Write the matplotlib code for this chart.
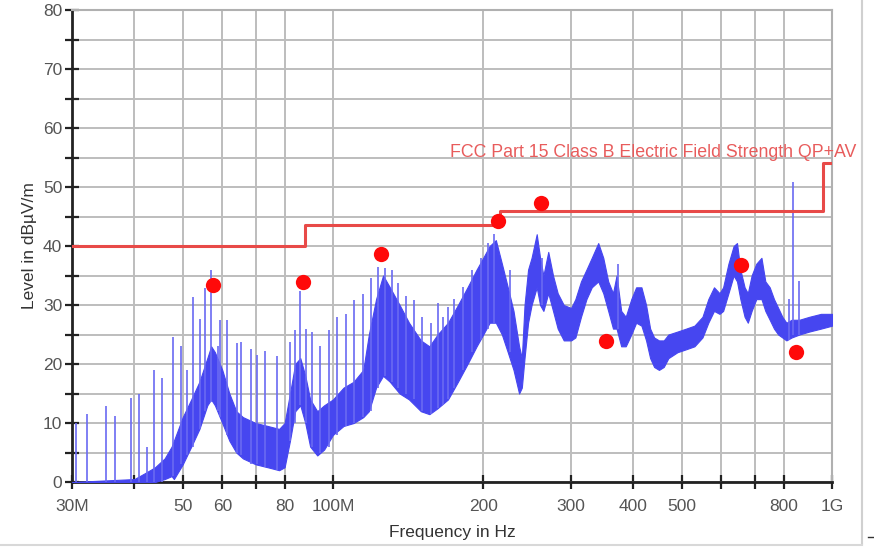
import matplotlib
matplotlib.use('Agg')
import matplotlib.pyplot as plt
from matplotlib.ticker import FixedLocator, NullLocator
from matplotlib.lines import Line2D

plt.rcParams['font.family'] = ['Liberation Sans', 'DejaVu Sans']

# noise floor band of the measured trace (MHz, low edge, high edge in dBuV/m)
spec_mhz = [30, 40, 42, 44, 46, 47.5, 48, 50, 52, 54, 56, 57, 58, 60, 62, 64, 66, 70, 74, 78,
            80, 82, 84, 86, 88, 90, 93, 96, 100, 105, 110, 115, 118, 122, 126, 130, 136, 142,
            150, 156, 162, 170, 178, 186, 194, 200, 206, 212, 218, 224, 230, 236, 239, 242,
            246, 250, 256, 260, 264, 270, 276, 282, 290, 300, 306, 314, 322, 330, 340, 348,
            356, 364, 370, 378, 386, 396, 405, 415, 424, 432, 440, 450, 460, 470, 490, 510,
            530, 550, 565, 580, 595, 605, 620, 635, 645, 655, 668, 678, 690, 705, 722, 735,
            750, 765, 780, 795, 810, 830, 860, 900, 950, 1000]
spec_lo = [0, 0, 0, 0, 0.5, 1, 0.5, 3, 6, 9, 13, 14, 13, 10, 7, 5, 4, 3, 2.5, 2,
           2.5, 7, 12, 13, 10, 6, 4.5, 5.5, 8, 9.5, 10, 11, 12, 16, 18, 17, 15, 14,
           12, 11.5, 12.5, 14, 17, 20, 23, 25, 27, 27, 25, 22, 19, 15, 16, 21,
           27, 30, 33, 30, 29, 32, 29, 26, 24, 24, 24.5, 28, 31, 33, 34, 32,
           29, 26, 26, 23, 23, 25, 27, 26.5, 24, 21, 19.5, 19, 19.5, 21, 22, 22.5,
           23, 24.5, 27, 29, 28.5, 29, 32, 35, 34, 31, 28, 27, 29, 31, 31, 29,
           27.5, 26, 25, 24.5, 24, 24.5, 25, 25.5, 26, 26.5]
spec_hi = [0, 0.5, 1.5, 2.5, 4, 6, 7, 11, 14, 17, 21, 23, 22, 19, 15, 12, 11, 10, 9.5, 9,
           10, 15, 20, 21, 18, 14, 12, 13, 14, 16, 17, 19, 25, 31, 35, 33, 30, 27,
           24, 23, 25, 27, 30, 33, 36, 38, 40, 41, 37, 33, 29, 23, 21, 30,
           36, 38, 42, 38, 35, 39, 35, 32, 30, 29.5, 31, 34, 36, 38, 40.5, 38,
           34, 32, 35, 29, 28, 31, 33, 33, 30, 26, 24.5, 24, 24, 25, 25.5, 26,
           26.5, 28, 31, 33, 32, 33, 37, 40, 40.5, 36, 33, 32, 35, 37, 38, 34,
           33, 31, 29.5, 28, 27, 27.5, 27.5, 28, 28.5, 28.5]

# narrow harmonic spikes (MHz, foot, top)
spike_mhz = [30.6, 32.2, 35.1, 36.6, 39.4, 40.9, 42.4, 43.8, 45.4, 47.9, 49.6, 51.0, 52.5,
             54.1, 55.4, 56.9, 58.8, 59.4, 61.3, 64.1, 65.5, 68.4, 70.4, 73.2, 77.1, 82.0,
             83.9, 85.9, 88.5, 90.7, 94.0, 98.0, 102, 106, 110, 115, 119, 123, 127, 131,
             135, 140, 145, 151, 157, 162, 166, 170, 175, 182, 190, 198, 204, 210, 226,
             262, 372, 820, 835, 860]
spike_foot = [0, 0, 0, 0, 0, 0, 0, 0, 0, 1, 3, 4.5, 6, 9, 12, 13.5, 12, 11, 8, 5, 4.5,
              3, 3, 2.5, 2, 7, 10, 13, 10, 6, 5, 6, 8, 9.5, 10, 11, 12, 16, 18, 17,
              16, 15, 14, 12, 11.5, 12.5, 13, 14, 16, 19, 22, 24, 26, 27, 22,
              30, 26, 24, 25, 25]
spike_top = [10, 11.5, 12.8, 11.2, 14.3, 14.9, 6, 19, 17.7, 24.6, 23, 19, 31.3, 27.7,
             32.9, 36, 23, 27.5, 27.5, 23.6, 23.8, 22.6, 21.5, 22.2, 21.4, 23.8, 25.8,
             32.3, 26, 25.5, 23, 25.7, 27.9, 28.5, 30.8, 31.9, 34.5, 36.5, 36.2, 36,
             33.8, 31.5, 30.9, 28, 27, 30.3, 28, 29.7, 31, 33, 36, 38, 40.5, 42, 36,
             38, 37, 31, 50.9, 34.1]

# FCC Part 15 class B limit (steps)
limit_mhz = [30, 88, 88, 216, 216, 960, 960, 1000]
limit_db = [40, 40, 43.5, 43.5, 46, 46, 54, 54]

# final measurement points
final_mhz = [57.5, 87.1, 124.8, 214, 261, 352, 657, 847]
final_db = [33.4, 33.9, 38.6, 44.2, 47.3, 23.9, 36.8, 22.0]

tick_mhz = [30, 40, 50, 60, 70, 80, 100, 200, 300, 400, 500, 600, 700, 800, 1000]
tick_lbl = ['30M', '', '50', '60', '', '80', '100M', '200', '300', '400', '500', '', '', '800', '1G']

blue = '#4646f0'
fig = plt.figure(figsize=(8.74, 5.47), dpi=100)
ax = fig.add_axes([0.0824, 0.1188, 0.8696, 0.8629])

hz = lambda v: [f * 1e6 for f in v]
ax.fill_between(hz(spec_mhz), spec_lo, spec_hi, color=blue, lw=0.8, edgecolor=blue, zorder=3)
ax.vlines(hz(spike_mhz), spike_foot, spike_top, color='#6a6af2', lw=1.2, zorder=3)
ax.plot(hz(limit_mhz), limit_db, color='#e84a48', lw=2.2, zorder=4)
ax.plot(hz(final_mhz), final_db, 'o', color='#ff0a0a', ms=11, mec='none', zorder=5)
ax.text(171.7e6, 55.9, 'FCC Part 15 Class B Electric Field Strength QP+AV', color='#e85c5c',
        fontsize=12.8, va='center', ha='left', clip_on=False, zorder=6)

ax.set_xscale('log')
ax.set_xlim(30e6, 1000e6)
ax.set_ylim(0, 80)
ax.xaxis.set_major_locator(FixedLocator(hz(tick_mhz)))
ax.xaxis.set_minor_locator(NullLocator())
ax.set_xticklabels(tick_lbl)
ax.set_yticks(range(0, 81, 10))
ax.set_yticks(range(5, 80, 10), minor=True)

ax.grid(True, which='both', color='#bdbdbd', lw=1.4, zorder=0)
ax.set_axisbelow(True)
ax.tick_params(axis='both', which='both', direction='inout', length=10, width=1.6,
               color='#222222', labelcolor='#555555', labelsize=12.5)
ax.tick_params(axis='x', pad=7)
ax.tick_params(axis='y', pad=2)

for s in ['left', 'bottom']:
    ax.spines[s].set_linewidth(2)
    ax.spines[s].set_color('#222222')
for s in ['top', 'right']:
    ax.spines[s].set_linewidth(1.5)
    ax.spines[s].set_color('#b0b0b0')

ax.set_xlabel('Frequency in Hz', fontsize=12.5, color='#333333', labelpad=8)
ax.set_ylabel('Level in dBµV/m', fontsize=12.5, color='#333333', labelpad=4)

# page border bits seen in the screenshot
fig.add_artist(Line2D([862 / 874, 862 / 874], [0.005, 1], color='#d0d0d0', lw=1.5))
fig.add_artist(Line2D([0, 862 / 874], [0.004, 0.004], color='#d8d8d8', lw=1.5))
fig.add_artist(Line2D([868 / 874, 874 / 874], [10 / 547, 10 / 547], color='#333333', lw=1))

plt.savefig('out.png', dpi=100)
